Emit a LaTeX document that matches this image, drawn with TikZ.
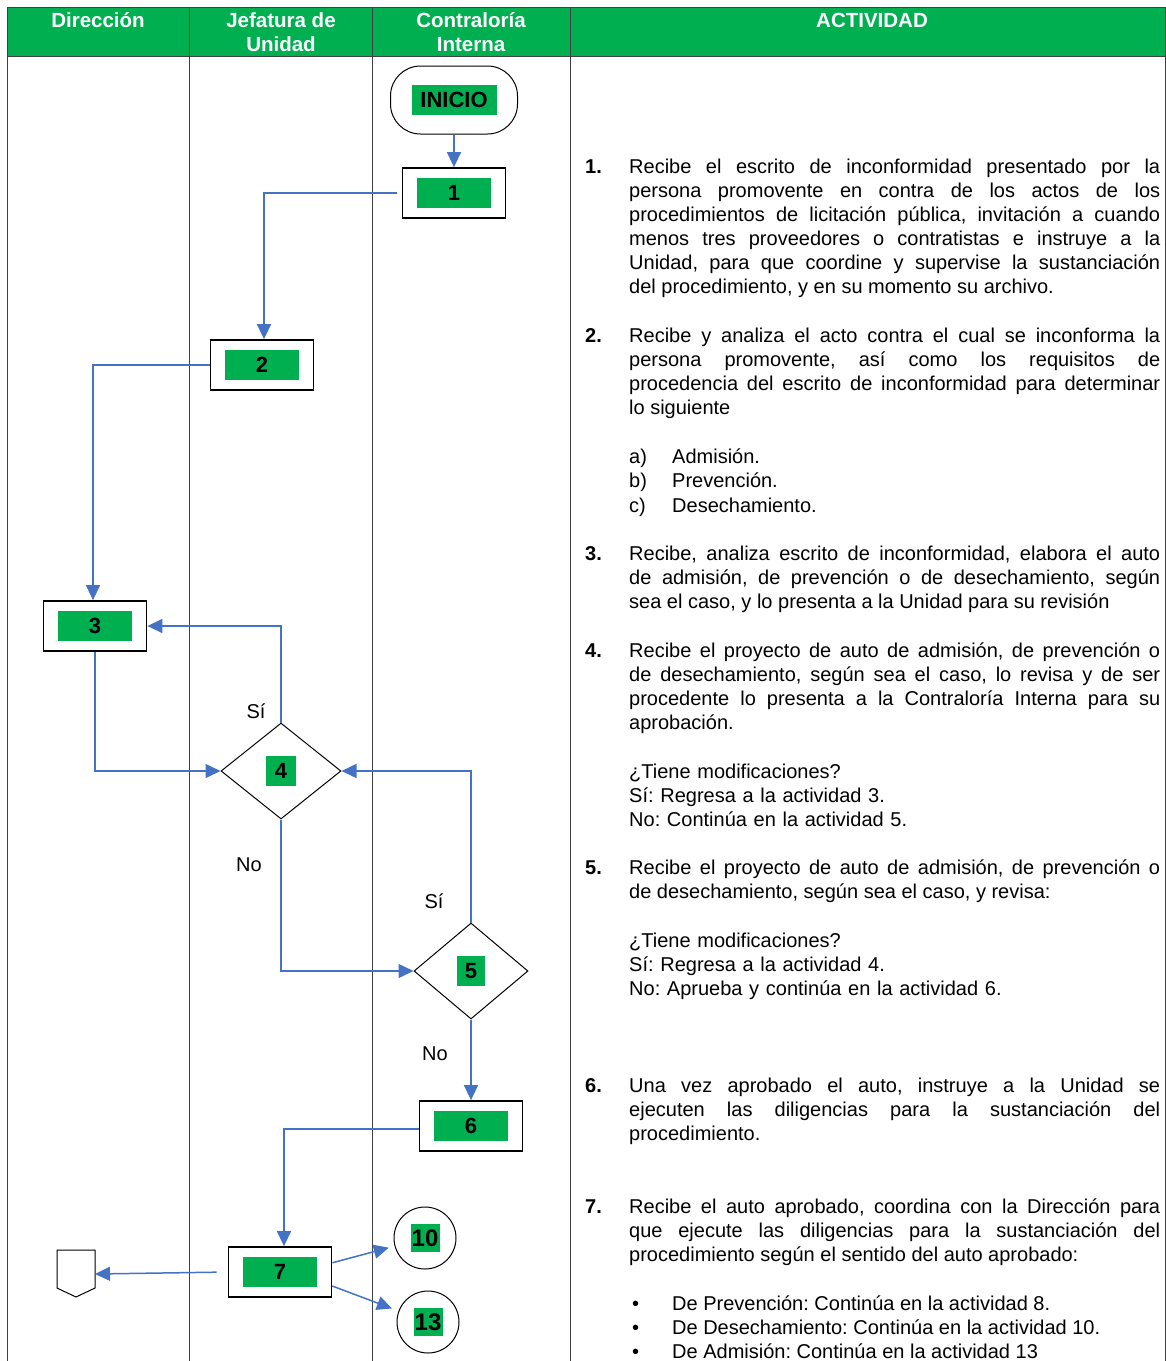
\documentclass[tikz,border=0pt]{standalone}
\usepackage{fontspec}
\setmainfont{Liberation Sans}
\usepackage{tikz}
\usetikzlibrary{arrows.meta,shapes.geometric}
\definecolor{hdrgreen}{HTML}{00B050}
\definecolor{flowblue}{HTML}{4472C4}
\newcommand\actsize{\fontsize{20}{24}\selectfont}
\frenchspacing

\begin{document}
\begin{tikzpicture}[
      x=1pt, y=-1pt,
      font=\actsize,
      grid/.style={draw=black!75, line width=1pt},
      hdr/.style={text=white, font=\fontsize{20.5}{24}\selectfont\bfseries, align=center, inner sep=0pt},
      tag/.style={
        fill=hdrgreen, font=\fontsize{22}{24}\selectfont\bfseries,
        minimum width=74pt, minimum height=30pt, inner sep=0pt
      },
      actbox/.style={draw, line width=1.8pt, minimum width=103pt, minimum height=50pt},
      decision/.style={
        diamond, draw, line width=1pt, inner sep=0pt,
        minimum width=120pt, minimum height=96pt
      },
      jump/.style={circle, draw, line width=1pt, minimum size=62pt, inner sep=0pt},
      flow/.style={draw=flowblue, line width=1.5pt, -{Triangle[length=15pt,width=14pt]}},
      num/.style={anchor=base west, inner sep=0pt, font=\actsize\bfseries},
      txt/.style={anchor=base west, inner sep=0pt, text width=531pt, align=justify},
      plain/.style={anchor=base west, inner sep=0pt, align=left},
      query/.style={anchor=base west, inner sep=0pt, text width=531pt, align=left}
    ]
      \useasboundingbox (0,0) rectangle (1166,1361);

      \fill[hdrgreen] (7,7) rectangle (1165,56);
      \draw[grid] (7,1361) -- (7,7) -- (1165,7) -- (1165,1361);
      \draw[grid] (7,56) -- (1165,56);
      \foreach \x in {189,372,570} {
        \draw[grid] (\x,7) -- (\x,1361);
      }
      \node[hdr] (h1) at (98,20) {Dirección};
      \node[hdr] (h2) at (281,32) {Jefatura de\\Unidad};
      \node[hdr] (h3) at (471,32) {Contraloría\\Interna};
      \node[hdr] (h4) at (872,20) {ACTIVIDAD};

      \node[draw, line width=1pt, rounded corners=30pt, minimum width=127pt, minimum height=68pt,
        label={[tag, minimum width=85pt]center:INICIO}] (ini) at (454,100) {};
      \node[actbox, label={[tag]center:1}] (b1) at (454,193) {};
      \node[actbox, label={[tag]center:2}] (b2) at (262,365) {};
      \node[actbox, label={[tag]center:3}] (b3) at (95,626) {};
      \node[decision, label={[tag, minimum width=30pt]center:4}] (d4) at (281,771) {};
      \node[decision, minimum width=114pt, label={[tag, minimum width=28pt]center:5}] (d5) at (471,971) {};
      \node[actbox, label={[tag]center:6}] (b6) at (471,1126) {};
      \node[actbox, label={[tag]center:7}] (b7) at (280,1272) {};
      \node[jump, label={[tag, minimum width=29pt, minimum height=28pt, font=\fontsize{24}{24}\selectfont\bfseries]center:10}] (c10) at (425,1238) {};
      \node[jump, label={[tag, minimum width=29pt, minimum height=28pt, font=\fontsize{24}{24}\selectfont\bfseries]center:13}] (c13) at (428,1322) {};
      \draw[line width=1pt] (57,1250) -- (95,1250) -- (95,1288) -- (76,1297) -- (57,1288) -- cycle;
      \coordinate (off) at (95,1274);

      \node (s4) at (256,711) {Sí};
      \node (n4) at (249,865) {No};
      \node (s5) at (434,901) {Sí};
      \node (n5) at (435,1054) {No};

      \draw[flow] (ini) -- (b1);
      \draw[flow, shorten <=5pt] (b1.west) -| ([xshift=2pt]b2.north);
      \draw[flow] (b2.west) -| ([xshift=-2pt]b3.north);
      \draw[flow] (b3.south) |- (d4.west);
      \draw[flow] (d4.north) |- (b3.east);
      \draw[flow] (d4.south) |- (d5.west);
      \draw[flow] (d5.north) |- (d4.east);
      \draw[flow] (d5.south) -- (b6.north);
      \draw[flow] ([yshift=-3pt]b6.west) -| ([xshift=4pt]b7.north);
      \draw[flow, shorten >=6pt] (b7.10) -- (c10);
      \draw[flow, shorten >=7pt] (b7.-15) -- (c13);
      \draw[flow, shorten <=11pt] (b7.west) -- (off);

      \foreach \n/\y in {1/173,2/342,3/560,4/657,5/874,6/1092,7/1213} {
        \node[num] (k\n) at (585,\y) {\n.};
      }
      \node[txt] (p1) at (629,173) {Recibe el escrito de inconformidad presentado por la\linebreak
        persona promovente en contra de los actos de los\linebreak
        procedimientos de licitación pública, invitación a cuando\linebreak
        menos tres proveedores o contratistas e instruye a la\linebreak
        Unidad, para que coordine y supervise la sustanciación\linebreak
        del procedimiento, y en su momento su archivo.};
      \node[txt] (p2) at (629,342) {Recibe y analiza el acto contra el cual se inconforma la\linebreak
        persona promovente, así como los requisitos de\linebreak
        procedencia del escrito de inconformidad para determinar\linebreak
        lo siguiente};
      \foreach \k/\t/\y in {a/Admisión./463,b/Prevención./487,c/Desechamiento./512} {
        \node[plain] (o\k) at (629,\y) {\k)};
        \node[plain] (t\k) at (672,\y) {\t};
      }
      \node[txt] (p3) at (629,560) {Recibe, analiza escrito de inconformidad, elabora el auto\linebreak
        de admisión, de prevención o de desechamiento, según\linebreak
        sea el caso, y lo presenta a la Unidad para su revisión};
      \node[txt] (p4) at (629,657) {Recibe el proyecto de auto de admisión, de prevención o\linebreak
        de desechamiento, según sea el caso, lo revisa y de ser\linebreak
        procedente lo presenta a la Contraloría Interna para su\linebreak
        aprobación.};
      \node[query] (q4) at (629,778) {¿Tiene modificaciones?\\Sí: Regresa a la actividad 3.\\No: Continúa en la actividad 5.};
      \node[txt] (p5) at (629,874) {Recibe el proyecto de auto de admisión, de prevención o\linebreak
        de desechamiento, según sea el caso, y revisa:};
      \node[query] (q5) at (629,947) {¿Tiene modificaciones?\\Sí: Regresa a la actividad 4.\\No: Aprueba y continúa en la actividad 6.};
      \node[txt] (p6) at (629,1092) {Una vez aprobado el auto, instruye a la Unidad se\linebreak
        ejecuten las diligencias para la sustanciación del\linebreak
        procedimiento.};
      \node[txt] (p7) at (629,1213) {Recibe el auto aprobado, coordina con la Dirección para\linebreak
        que ejecute las diligencias para la sustanciación del\linebreak
        procedimiento según el sentido del auto aprobado:};
      \foreach \t/\y in {De Prevención: Continúa en la actividad 8./1310,
                         De Desechamiento: Continúa en la actividad 10./1334,
                         De Admisión: Continúa en la actividad 13/1358} {
        \node[plain] at (632,\y) {•};
        \node[plain] at (672,\y) {\t};
      }
    \end{tikzpicture}
\end{document}
